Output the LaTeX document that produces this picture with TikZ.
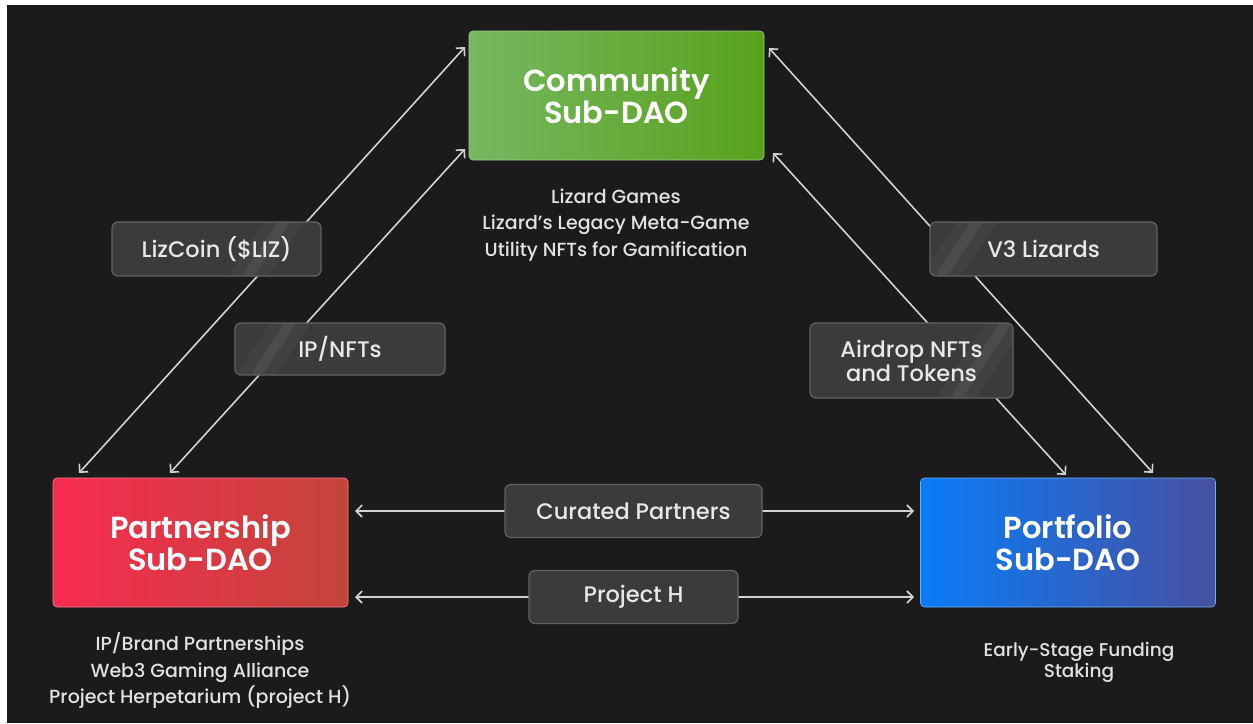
\documentclass[tikz,border=0pt]{standalone}
\usepackage{fontspec}
\setmainfont{Poppins}
\newfontfamily\pmed{Poppins Medium}
\newfontfamily\psemi{Poppins SemiBold}
\usetikzlibrary{arrows.meta}
\definecolor{bg}{HTML}{1B1B1B}
\definecolor{arrowc}{HTML}{D2D2D2}
\definecolor{lblfill}{HTML}{3B3B3B}
\definecolor{lbldraw}{HTML}{626262}
\definecolor{lbltext}{HTML}{E8E8E8}
\definecolor{subtext}{HTML}{E2E2E2}
\definecolor{gL}{HTML}{76B760}
\definecolor{gR}{HTML}{57A21C}
\definecolor{rL}{HTML}{F72B50}
\definecolor{rR}{HTML}{C3453A}
\definecolor{bL}{HTML}{0A7CF8}
\definecolor{bR}{HTML}{4750A0}
\begin{document}
\begin{tikzpicture}[x=1pt,y=-1pt,
  mainbox/.style={rounded corners=4pt, minimum width=295pt, minimum height=129pt,
    inner sep=0pt, align=center, text=white,
    font=\fontsize{30.5}{32}\selectfont\psemi},
  lblbox/.style={rounded corners=6pt, fill=lblfill, draw=lbldraw, line width=1.2pt,
    inner sep=0pt, align=center, text=lbltext,
    font=\fontsize{22.5}{24}\selectfont\pmed},
  shine/.style={path picture={
    \fill[white, opacity=0.035] ([xshift=#1-14pt]path picture bounding box.south west)
      -- ++(40,0) -- ++(60,-90) -- ++(-40,0) -- cycle;
    \fill[white, opacity=0.06] ([xshift=#1]path picture bounding box.south west)
      -- ++(12,0) -- ++(60,-90) -- ++(-12,0) -- cycle;}},
  subnote/.style={align=center, text=subtext, inner sep=0pt,
    font=\fontsize{19}{26.5}\selectfont\pmed},
  arr/.style={draw=arrowc, line width=1.6pt,
    {Straight Barb[length=6pt,width=12pt]}-{Straight Barb[length=6pt,width=12pt]}}
]
\useasboundingbox (0,0) rectangle (1253,723);
\fill[white] (0,0) rectangle (1253,723);
\fill[bg] (7,5) rectangle (1253,723);

% main boxes
\node[mainbox, left color=gL, right color=gR, draw=gL!70!white, line width=0.6pt]
  (comm) at (616.5,95.5) {Community\\Sub-DAO};
\node[mainbox, left color=rL, right color=rR, draw=rL!60!white, line width=0.6pt]
  (part) at (200.5,542.5) {Partnership\\Sub-DAO};
\node[mainbox, left color=bL, right color=bR, draw=bL!60!white, line width=0.6pt]
  (port) at (1068,542.5) {Portfolio\\Sub-DAO};

% notes
\node[subnote] (commnote) at (616,225) {Lizard Games\\Lizard’s Legacy Meta-Game\\Utility NFTs for Gamification};
\node[subnote] (partnote) at (200,671) {IP/Brand Partnerships\\Web3 Gaming Alliance\\Project Herpetarium (project H)};
\node[subnote, font=\fontsize{18.5}{21}\selectfont\pmed] (portnote) at (1079,662) {Early-Stage Funding\\Staking};

% arrow end points
\coordinate (lizT) at (465,47);
\coordinate (lizB) at (79,473);
\coordinate (ipT) at (465,149);
\coordinate (ipB) at (170,473);
\coordinate (v3T) at (769,48);
\coordinate (v3B) at (1153,473);
\coordinate (airT) at (773,153);
\coordinate (airB) at (1066,475);
\coordinate (curL) at (355,511);
\coordinate (curR) at (914,511);
\coordinate (phL) at (355,597);
\coordinate (phR) at (914,597);

\draw[arr] (lizB) -- (lizT);
\draw[arr] (ipB) -- (ipT);
\draw[arr] (v3B) -- (v3T);
\draw[arr] (airB) -- (airT);
\draw[arr] (curL) -- (curR);
\draw[arr] (phL) -- (phR);

% labels
\node[lblbox, shine=130pt, minimum width=209pt, minimum height=54pt] (liz) at (216.5,249) {LizCoin (\$LIZ)};
\node[lblbox, shine=15pt, minimum width=210pt, minimum height=52pt] (ip) at (340,349) {IP/NFTs};
\node[lblbox, shine=5pt, minimum width=227pt, minimum height=54pt] (v3) at (1043.5,249) {V3 Lizards};
\node[lblbox, shine=140pt, minimum width=203pt, minimum height=75pt] (air) at (911.5,360.5) {Airdrop NFTs\\and Tokens};
\node[lblbox, minimum width=257pt, minimum height=53pt] (cur) at (633.5,511) {Curated Partners};
\node[lblbox, minimum width=209pt, minimum height=53pt] (ph) at (633.5,597) {Project H};
\end{tikzpicture}
\end{document}
